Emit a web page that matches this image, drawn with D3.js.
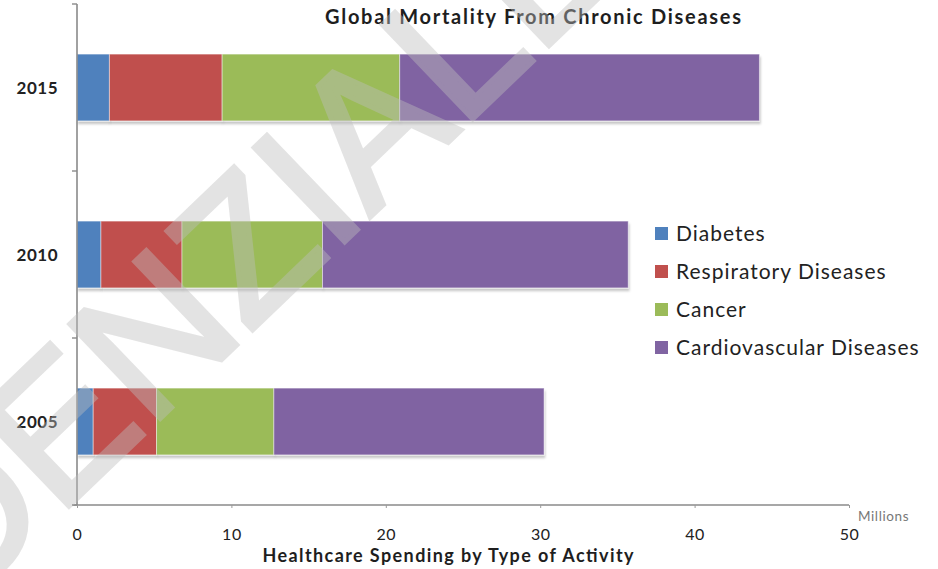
<!DOCTYPE html>
<html>
<head>
<meta charset="utf-8">
<script src="https://cdn.jsdelivr.net/npm/d3@7"></script>
<style>
  html, body { margin: 0; padding: 0; background: #fff; }
  svg { display: block; }
</style>
</head>
<body>
<svg id="chart" width="938" height="569"></svg>
<script>
// Mortality (millions) by disease group, per year
const years = ["2015", "2010", "2005"];
const seriesNames = ["Diabetes", "Respiratory Diseases", "Cancer", "Cardiovascular Diseases"];
const diabetes       = [2.1, 1.55, 1.05];
const respiratory    = [7.3, 5.25, 4.1];
const cancer         = [11.5, 9.1, 7.6];
const cardiovascular = [23.3, 19.8, 17.5];
const seriesColors = ["#4f81bd", "#c0504d", "#9bbb59", "#8064a2"];
const xTicks = [0, 10, 20, 30, 40, 50];

const chartTitle = "Global Mortality From Chronic Diseases";
const xTitle = "Healthcare Spending by Type of Activity";
const unitLabel = "Millions";
const stampText = "CONFIDENZIALE";

const rows = years.map((y, i) => ({
  year: y,
  "Diabetes": diabetes[i],
  "Respiratory Diseases": respiratory[i],
  "Cancer": cancer[i],
  "Cardiovascular Diseases": cardiovascular[i]
}));

const font = "Lato, 'Open Sans', sans-serif";
const svg = d3.select("#chart");

const plot = { left: 77, right: 849, top: 4, bottom: 505 };

const x = d3.scaleLinear().domain([0, 50]).range([plot.left, plot.right]);
const y = d3.scaleBand().domain(years).range([plot.top, plot.bottom])
  .paddingInner(0.6).paddingOuter(0.3);
const color = d3.scaleOrdinal().domain(seriesNames).range(seriesColors);

const stacked = d3.stack().keys(seriesNames)(rows);

// soft shadow under the bars
const defs = svg.append("defs");
const shadow = defs.append("filter").attr("id", "barShadow")
  .attr("x", "-5%").attr("y", "-20%").attr("width", "110%").attr("height", "150%");
shadow.append("feDropShadow").attr("dx", 1).attr("dy", 3).attr("stdDeviation", 1)
  .attr("flood-color", "#000").attr("flood-opacity", 0.22);

// bars
const barLayer = svg.append("g");
stacked.forEach(layer => {
  barLayer.append("g")
    .attr("fill", color(layer.key))
    .selectAll("rect")
    .data(layer)
    .join("rect")
      .attr("x", d => x(d[0]))
      .attr("y", d => y(d.data.year))
      .attr("width", d => x(d[1]) - x(d[0]))
      .attr("height", y.bandwidth())
      .attr("filter", "url(#barShadow)")
      .attr("stroke", "rgba(255,255,255,0.45)")
      .attr("stroke-width", 1);
});

// category axis
const yAxisG = svg.append("g");
yAxisG.append("line")
  .attr("x1", plot.left).attr("x2", plot.left)
  .attr("y1", plot.top).attr("y2", plot.bottom)
  .attr("stroke", "#8a8a8a").attr("stroke-width", 1.6);
const bounds = [plot.top].concat(years.slice(1).map(yr => y(yr) - y.step() * y.paddingInner() / 2), [plot.bottom]);
yAxisG.selectAll("line.tick").data(bounds).join("line")
  .attr("class", "tick")
  .attr("x1", plot.left - 5).attr("x2", plot.left)
  .attr("y1", d => d).attr("y2", d => d)
  .attr("stroke", "#8a8a8a").attr("stroke-width", 1.4);
yAxisG.selectAll("text").data(years).join("text")
  .attr("x", 58).attr("y", d => y(d) + y.bandwidth() / 2 + 6)
  .attr("text-anchor", "end")
  .attr("font-family", font).attr("font-weight", "bold").attr("font-size", 17)
  .attr("letter-spacing", 0.5)
  .attr("fill", "#222").text(d => d);

// value axis
const xAxis = d3.axisBottom(x).tickValues(xTicks).tickSize(3).tickPadding(21).tickSizeOuter(0);
const xAxisG = svg.append("g").attr("transform", `translate(0,${plot.bottom})`).call(xAxis);
xAxisG.select(".domain").attr("stroke", "#8a8a8a").attr("stroke-width", 1.6)
  .attr("d", `M${plot.left - 5},0H${plot.right}`);
xAxisG.selectAll(".tick line").attr("stroke", "#9a9a9a");
xAxisG.selectAll(".tick text")
  .attr("font-family", font).attr("font-size", 16).attr("letter-spacing", 0.5).attr("fill", "#222");

svg.append("text")
  .attr("x", 858).attr("y", 521)
  .attr("font-family", font).attr("font-size", 13.5).attr("letter-spacing", 0.6).attr("fill", "#777")
  .text(unitLabel);

// titles
svg.append("text")
  .attr("x", 533).attr("y", 24).attr("text-anchor", "middle")
  .attr("font-family", font).attr("font-weight", "bold").attr("font-size", 20)
  .attr("textLength", 416).attr("lengthAdjust", "spacing")
  .attr("fill", "#1e1e1e").text(chartTitle);

svg.append("text")
  .attr("x", 448).attr("y", 562).attr("text-anchor", "middle")
  .attr("font-family", font).attr("font-weight", "bold").attr("font-size", 18)
  .attr("textLength", 371).attr("lengthAdjust", "spacing")
  .attr("fill", "#1e1e1e").text(xTitle);

// legend
const legend = svg.append("g").attr("transform", "translate(655,233)");
const legendRow = legend.selectAll("g").data(seriesNames).join("g")
  .attr("transform", (d, i) => `translate(0,${i * 38})`);
legendRow.append("rect")
  .attr("x", 0).attr("y", -6).attr("width", 13).attr("height", 13)
  .attr("fill", d => color(d));
legendRow.append("text")
  .attr("x", 21).attr("y", 8)
  .attr("font-family", font).attr("font-size", 21).attr("letter-spacing", 1).attr("fill", "#222")
  .text(d => d);

// diagonal stamp across the chart
svg.append("text")
  .attr("transform", "translate(-468,1021) rotate(-43.8)")
  .attr("font-family", "'Liberation Sans', Arial, sans-serif")
  .attr("font-size", 190).attr("fill", "#bebebe")
  .attr("stroke", "#bebebe").attr("stroke-width", 5).attr("stroke-linejoin", "miter")
  .attr("opacity", 0.42)
  .text(stampText);
</script>
</body>
</html>
